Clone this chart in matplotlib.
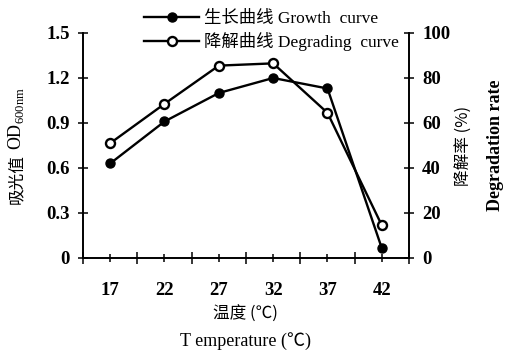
import matplotlib
matplotlib.use("Agg")
import matplotlib.pyplot as plt
from matplotlib.ticker import FixedLocator

# temperature groups and measured values
temps = ["17", "22", "27", "32", "37", "42"]
growth_od = [0.63, 0.91, 1.10, 1.20, 1.13, 0.065]
degrade_rate = [51, 68.5, 85.5, 86.5, 64.5, 14.5]
od_ticks = [0, 0.3, 0.6, 0.9, 1.2, 1.5]
od_labels = ["0", "0.3", "0.6", "0.9", "1.2", "1.5"]
rate_ticks = [0, 20, 40, 60, 80, 100]

FONT = ["Liberation Serif", "Noto Sans CJK SC"]
CJK = ["Noto Sans CJK SC", "Liberation Serif"]
plt.rcParams["font.family"] = FONT
plt.rcParams["mathtext.fontset"] = "custom"
plt.rcParams["mathtext.rm"] = "Liberation Serif"

fig = plt.figure(figsize=(5.07, 3.54), dpi=100)
ax = fig.add_axes([0.1637, 0.2712, 0.643, 0.6356])
ax2 = ax.twinx()

x = [i + 0.5 for i in range(len(temps))]
l1, = ax.plot(x, growth_od, color="black", lw=1.7, marker="o", ms=6.5,
              mfc="black", mec="black", label="生长曲线 Growth  curve")
l2, = ax2.plot(x, degrade_rate, color="black", lw=1.7, marker="o", ms=6.5,
               mfc="white", mec="black", mew=1.7, label="降解曲线 Degrading  curve")

ax.set_xlim(0, 6)
ax.set_ylim(0, 1.5)
ax2.set_ylim(0, 100)
ax.set_yticks(od_ticks)
ax.set_yticklabels(od_labels)
ax2.set_yticks(rate_ticks)
ax.xaxis.set_major_locator(FixedLocator(x))
ax.xaxis.set_minor_locator(FixedLocator(range(0, 7)))
ax.set_xticklabels(temps)

for a in (ax, ax2):
    a.spines["top"].set_visible(False)
    for s in a.spines.values():
        s.set_linewidth(1.2)
ax.tick_params(axis="x", which="both", direction="inout", length=8, width=1.1,
               labelsize=13.5, pad=14)
ax.tick_params(axis="x", which="major", length=6)
ax.tick_params(axis="y", direction="inout", length=7, width=1.1, labelsize=13.5, pad=6)
ax2.tick_params(axis="y", direction="inout", length=7, width=1.1, labelsize=13.5, pad=6)
for lab in ax.get_xticklabels() + ax.get_yticklabels() + ax2.get_yticklabels():
    lab.set_fontweight("bold")

# left axis title: Chinese part and OD with subscript drawn separately
fig.text(0.032, 0.566, "吸光值", rotation=90, fontsize=12, family=CJK,
         ha="center", va="top")
fig.text(0.032, 0.575, r"OD$_{600\mathrm{nm}}$", rotation=90, fontsize=13,
         ha="center", va="bottom")

ax2.set_ylabel("降解率 (%)", fontsize=12, family=CJK, labelpad=4)
fig.text(0.978, 0.5885, "Degradation rate", rotation=90, fontsize=13,
         fontweight="bold", ha="center", va="center")

fig.text(0.485, 0.113, "温度 (℃)", fontsize=12, family=CJK, ha="center", va="center")
fig.text(0.485, 0.038, "T emperature (℃)", fontsize=13, ha="center", va="center")

leg = ax.legend(handles=[l1, l2], loc="upper left", bbox_to_anchor=(0.165, 1.13),
                frameon=False, fontsize=12.5, handlelength=3.2, handletextpad=0.3,
                labelspacing=0.3, borderaxespad=0)

fig.savefig("out.png", dpi=100)
